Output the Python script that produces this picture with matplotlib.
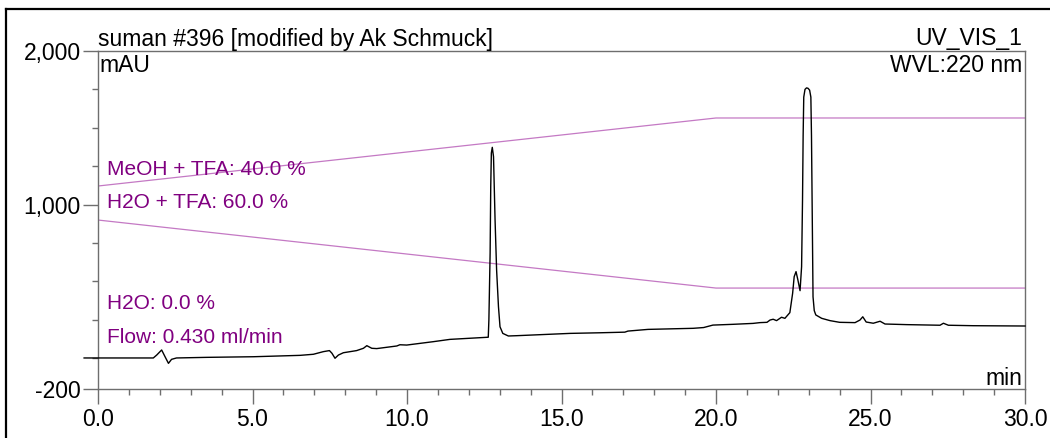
import matplotlib
matplotlib.use("Agg")
import matplotlib.pyplot as plt
from matplotlib.lines import Line2D
from matplotlib.ticker import MultipleLocator, FixedLocator, FuncFormatter

plt.rcParams['font.family'] = ['Liberation Sans', 'DejaVu Sans']

# UV_VIS_1 trace, retention time (min) vs absorbance (mAU)
time_min = [
    -0.45, 1.79, 1.90, 2.06, 2.17, 2.28, 2.38, 2.54, 3.52, 5.03, 6.54,
    6.97, 7.29, 7.49, 7.57, 7.67, 7.78, 7.94, 8.37, 8.59, 8.70, 8.86,
    9.02, 9.67, 9.77, 9.99, 10.85, 11.39, 12.63, 12.65, 12.69, 12.71,
    12.73, 12.76, 12.80, 12.85, 12.90, 12.96, 13.01, 13.10, 13.28, 13.55,
    15.28, 16.25, 17.05, 17.15, 17.80, 19.26, 19.60, 19.90, 20.55, 21.20,
    21.42, 21.65, 21.75, 21.85, 21.96, 22.12, 22.23, 22.39, 22.48, 22.53,
    22.59, 22.65, 22.72, 22.77, 22.80, 22.82, 22.84, 22.88, 22.93, 22.98,
    23.03, 23.07, 23.09, 23.11, 23.14, 23.18, 23.23, 23.42, 23.69, 24.00,
    24.50, 24.66, 24.75, 24.86, 25.09, 25.31, 25.47, 26.17, 27.25, 27.36,
    27.52, 28.32, 30.00,
]
signal_mau = [
    2, 2, 21, 54, 10, -33, -7, 2, 6, 10, 19,
    26, 43, 50, 33, 0, 21, 36, 50, 65, 82, 65,
    63, 80, 88, 86, 108, 123, 137, 249, 685, 1117,
    1336, 1373, 1312, 900, 574, 336, 205, 162, 145, 147,
    162, 166, 170, 177, 188, 195, 200, 216, 221, 227,
    232, 234, 249, 254, 245, 267, 260, 297, 423, 531,
    564, 510, 440, 596, 1030, 1450, 1700, 1750, 1760, 1757,
    1745, 1700, 1450, 1030, 400, 310, 282, 260, 245, 234,
    232, 249, 270, 236, 228, 241, 223, 219, 215, 228,
    215, 212, 210,
]

# pump gradient program
grad_time = [0.0, 20.0, 30.0]
meoh_tfa_pct = [40.0, 100.0, 100.0]
h2o_tfa_pct = [60.0, 0.0, 0.0]

# gradient curves are overlaid on the mAU scale
GRAD_SCALE = 7.38
MEOH_OFFSET = 826.0
H2O_OFFSET = 457.0

BLACK_FS = 16.5
PURPLE = '#800080'
GRAD_COLOR = '#c479c4'
AXIS_GRAY = '#6e6e6e'

fig = plt.figure(figsize=(10.5, 4.38), dpi=100)
ax = fig.add_axes([98 / 1050, 1 - 389 / 438, 927 / 1050, 338 / 438])

ax.plot(grad_time, [MEOH_OFFSET + GRAD_SCALE * p for p in meoh_tfa_pct],
        color=GRAD_COLOR, lw=0.9, zorder=2)
ax.plot(grad_time, [H2O_OFFSET + GRAD_SCALE * p for p in h2o_tfa_pct],
        color=GRAD_COLOR, lw=0.9, zorder=2)
ax.plot(time_min, signal_mau, color='black', lw=1.0, clip_on=False, zorder=3)

ax.set_xlim(0, 30)
ax.set_ylim(-200, 2000)

for side in ('left', 'right', 'top', 'bottom'):
    ax.spines[side].set_color(AXIS_GRAY)
    ax.spines[side].set_linewidth(1.0)

ax.xaxis.set_major_locator(MultipleLocator(5))
ax.xaxis.set_minor_locator(MultipleLocator(1))
ax.xaxis.set_major_formatter(FuncFormatter(lambda v, _: f"{v:.1f}"))
ax.yaxis.set_major_locator(FixedLocator([-200, 1000, 2000]))
ax.yaxis.set_minor_locator(FixedLocator(list(range(0, 2000, 250))))
ax.yaxis.set_major_formatter(FuncFormatter(lambda v, _: f"{v:,.0f}"))

ax.tick_params(which='major', direction='out', length=10.5, width=1.0,
               color=AXIS_GRAY, labelsize=BLACK_FS, labelcolor='black')
ax.tick_params(axis='x', which='major', pad=3.5)
ax.tick_params(axis='y', which='major', pad=2)
ax.tick_params(which='minor', direction='out', length=4.3, width=1.0,
               color=AXIS_GRAY)

# header and axis unit texts
ax.text(0.0, 1.015, "suman #396 [modified by Ak Schmuck]", transform=ax.transAxes,
        ha='left', va='baseline', fontsize=BLACK_FS)
ax.text(0.9968, 1.018, "UV_VIS_1", transform=ax.transAxes,
        ha='right', va='baseline', fontsize=BLACK_FS)
ax.text(0.002, 0.9388, "mAU", transform=ax.transAxes,
        ha='left', va='baseline', fontsize=BLACK_FS)
ax.text(0.9968, 0.9388, "WVL:220 nm", transform=ax.transAxes,
        ha='right', va='baseline', fontsize=BLACK_FS)
ax.text(0.9975, 0.0118, "min", transform=ax.transAxes,
        ha='right', va='baseline', fontsize=BLACK_FS)

# method annotations
notes = [
    ("MeOH + TFA: 40.0 %", 0.633),
    ("H2O + TFA: 60.0 %", 0.536),
    ("H2O: 0.0 %", 0.236),
    ("Flow: 0.430 ml/min", 0.135),
]
for label, yfrac in notes:
    ax.text(0.0097, yfrac, label, transform=ax.transAxes, ha='left',
            va='baseline', fontsize=15, color=PURPLE)

# page border
fig.add_artist(Line2D([6 / 1050, 1.0], [1 - 9 / 438, 1 - 9 / 438],
                      transform=fig.transFigure, color='black', lw=1.6))
fig.add_artist(Line2D([6 / 1050, 6 / 1050], [0.0, 1 - 9 / 438],
                      transform=fig.transFigure, color='black', lw=1.6))

fig.savefig("out.png", dpi=100)
